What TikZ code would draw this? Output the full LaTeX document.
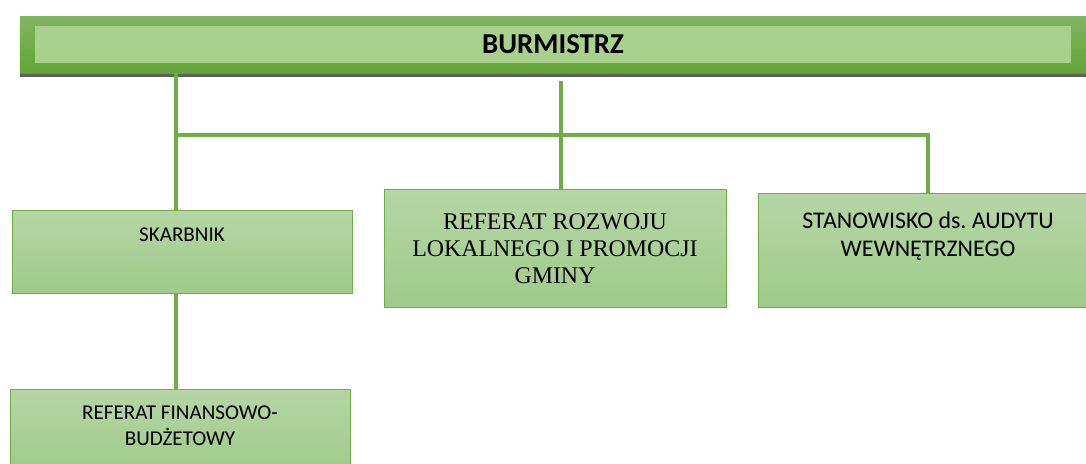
\documentclass[tikz,border=0pt]{standalone}
\usepackage{fontspec}
\setmainfont{Carlito}
\newfontfamily\timesfont{Liberation Serif}
\usetikzlibrary{positioning,shadows}
\frenchspacing
\definecolor{linegreen}{HTML}{70AD47}
\definecolor{boxtop}{HTML}{B5D6A5}
\definecolor{boxbottom}{HTML}{9FCB8A}
\definecolor{bartop}{HTML}{80B562}
\definecolor{barbottom}{HTML}{62A535}
\definecolor{barlight}{HTML}{A9D18E}
\definecolor{barshadow}{HTML}{5E5E5E}
\tikzstyle{link} = [draw=linegreen, line width=0.1cm]

\begin{document}
\begin{tikzpicture}[
            node distance=5.1cm,
            every node/.style={text centered, inner sep=0pt},
            unit/.style={rectangle, draw=linegreen, line width=0.7pt, top color=boxtop, bottom color=boxbottom, text width=8.5cm, align=flush center, font=\fontsize{15}{18.5}\selectfont},
            head/.style={rectangle, minimum width=26.65cm, minimum height=1.425cm, top color=bartop, bottom color=barbottom,
                drop shadow={shadow xshift=0cm, shadow yshift=-0.1cm, fill=barshadow, opacity=1},
                path picture={\fill[barlight] ([xshift=0.375cm,yshift=-0.25cm]path picture bounding box.north west) rectangle ([xshift=-0.375cm,yshift=0.25cm]path picture bounding box.south east);},
                font=\fontsize{20.5}{24}\selectfont\bfseries}
        ]
            \useasboundingbox (0,0) rectangle (27.15,-11.6);
            % Nodes
            \node (burmistrz) [head] at (13.825,-1.1125) {BURMISTRZ};
            \node (skarbnik) [unit, below of=burmistrz, xshift=-9.275cm, yshift=-0.075cm, text height=0.775cm, text depth=1.3cm] {SKARBNIK};
            \node (referat) [unit, below of=burmistrz, xshift=0.05cm, text width=8.55cm, minimum height=2.95cm, font=\timesfont\fontsize{17}{19.2}\selectfont] {REFERAT ROZWOJU\\ LOKALNEGO I PROMOCJI\\ GMINY};
            \node (audyt) [unit, below of=burmistrz, xshift=9.375cm, yshift=-0.0375cm, text height=0.875cm, text depth=1.975cm, font=\fontsize{17}{20.3}\selectfont] {STANOWISKO ds. AUDYTU\\ WEWNĘTRZNEGO};
            \node (finanse) [unit, below of=skarbnik, xshift=-0.05cm, yshift=0.625cm, text height=0.75cm, text depth=1.325cm] {REFERAT FINANSOWO-\\ BUDŻETOWY};

            % Lines
            \coordinate (skTop) at ([xshift=-0.15cm]skarbnik.north);
            \coordinate (refTop) at ([xshift=0.15cm]referat.north);
            \coordinate (bus) at ([yshift=-1.55cm]burmistrz.south);
            \draw [link] (burmistrz.south -| skTop) -- (skTop);
            \draw [link] (bus -| skTop) -- (bus -| audyt.north) -- (audyt.north);
            \draw [link] (refTop) -- ++(0,2.7cm);
            \draw [link] (skarbnik.south -| skTop) -- (finanse.north -| skTop);
        \end{tikzpicture}
\end{document}
